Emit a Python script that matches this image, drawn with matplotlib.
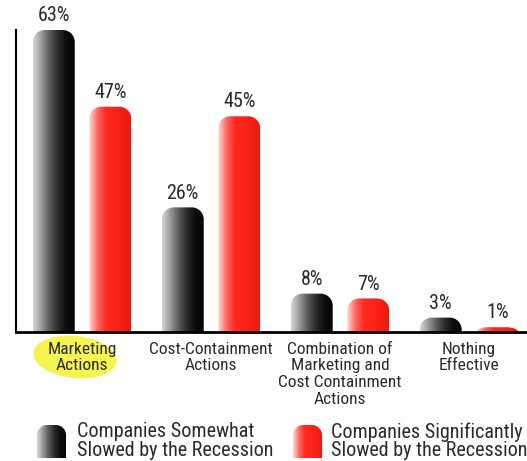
import numpy as np
import matplotlib
matplotlib.use('Agg')
import matplotlib.pyplot as plt
from matplotlib.path import Path
from matplotlib.patches import PathPatch, Ellipse
from matplotlib.colors import LinearSegmentedColormap

plt.rcParams['font.family'] = ['Roboto Condensed', 'DejaVu Sans']

categories = ['Marketing\nActions', 'Cost-Containment\nActions',
              'Combination of\nMarketing and\nCost Containment\nActions',
              'Nothing\nEffective']
somewhat = [63, 26, 8, 3]
significant = [47, 45, 7, 1]
series_names = ['Companies Somewhat\nSlowed by the Recession',
                'Companies Significantly\nSlowed by the Recession']

# cylinder shading, left to right
grey_cmap = LinearSegmentedColormap.from_list(
    'cyl_grey', ['#d8d8d8', '#9a9a9a', '#5a5a5a', '#2a2a2a', '#0c0c0c', '#050505'])
red_cmap = LinearSegmentedColormap.from_list(
    'cyl_red', ['#ffdcd8', '#ff6a60', '#ff2a22', '#ff2418', '#f52014', '#e81a10'])

W, H = 527, 461
fig = plt.figure(figsize=(W / 100, H / 100), dpi=100)
ax = fig.add_axes([16 / W, 129 / H, 511 / W, 302 / H])
ax.patch.set_alpha(0)
ax.set_xlim(-0.512, 3.45)
ax.set_ylim(0, 63)


def cyl_bar(ax, x0, w, h, cmap, r_px=12):
    bb = ax.get_window_extent()
    xl, yl = ax.get_xlim(), ax.get_ylim()
    sx = bb.width / (xl[1] - xl[0])
    sy = bb.height / (yl[1] - yl[0])
    rx = min(r_px / sx, w / 2)
    ry = min(r_px / sy, h)
    k = 0.5523
    verts = [(x0, 0), (x0, h - ry),
             (x0, h - ry + k * ry), (x0 + rx - k * rx, h), (x0 + rx, h),
             (x0 + w - rx, h),
             (x0 + w - rx + k * rx, h), (x0 + w, h - ry + k * ry), (x0 + w, h - ry),
             (x0 + w, 0), (x0, 0)]
    codes = [Path.MOVETO, Path.LINETO,
             Path.CURVE4, Path.CURVE4, Path.CURVE4,
             Path.LINETO,
             Path.CURVE4, Path.CURVE4, Path.CURVE4,
             Path.LINETO, Path.CLOSEPOLY]
    patch = PathPatch(Path(verts, codes), fc='none', ec='none', transform=ax.transData)
    ax.add_patch(patch)
    grad = np.linspace(0, 1, 256).reshape(1, -1)
    im = ax.imshow(grad, extent=[x0, x0 + w, 0, h], aspect='auto', cmap=cmap,
                   interpolation='bicubic', zorder=2)
    im.set_clip_path(patch)


x = np.arange(len(categories))
width = 0.325
offset = 0.219
bars1 = ax.bar(x - offset, somewhat, width, alpha=0)
bars2 = ax.bar(x + offset, significant, width, alpha=0)

for bars, cmap in [(bars1, grey_cmap), (bars2, red_cmap)]:
    for b in bars:
        cyl_bar(ax, b.get_x(), b.get_width(), b.get_height(), cmap)
        ax.text(b.get_x() + b.get_width() / 2, b.get_height() + 1.0,
                f'{b.get_height():.0f}%', ha='center', va='bottom',
                fontsize=14.5, color='#2a2a2a', clip_on=False)

ax.set_xlim(-0.512, 3.45)
ax.set_ylim(0, 63)

for s in ['top', 'right']:
    ax.spines[s].set_visible(False)
ax.spines['bottom'].set_linewidth(2)
ax.spines['left'].set_linewidth(1.5)
ax.spines['bottom'].set_zorder(5)
ax.tick_params(left=False, bottom=False, labelleft=False, labelbottom=False)

# highlighter mark behind the first category
fig.patches.append(Ellipse((75 / W, 1 - 357 / H), 84 / W, 42 / H, angle=-8,
                           transform=fig.transFigure, fc='#f4f23a', ec='none',
                           alpha=0.9, zorder=-1))

for i, lab in enumerate(categories):
    ax.text(x[i], -2.0, lab, ha='center', va='top', fontsize=12.5,
            color='#2a2a2a', linespacing=1.15, zorder=3)

# legend
for (x_sw, x_txt), cmap, name in zip([(37, 77), (293, 331)], [grey_cmap, red_cmap],
                                     series_names):
    sw = fig.add_axes([x_sw / W, 1 - 458 / H, 29 / W, 33 / H])
    sw.set_xlim(0, 1)
    sw.set_ylim(0, 1)
    sw.axis('off')
    cyl_bar(sw, 0, 1, 1, cmap, r_px=10)
    sw.set_xlim(0, 1)
    sw.set_ylim(0, 1)
    fig.text(x_txt / W, 1 - 441 / H, name, ha='left', va='center', fontsize=14.5,
             color='#2a2a2a', linespacing=0.95)

fig.savefig('out.png', dpi=100)
